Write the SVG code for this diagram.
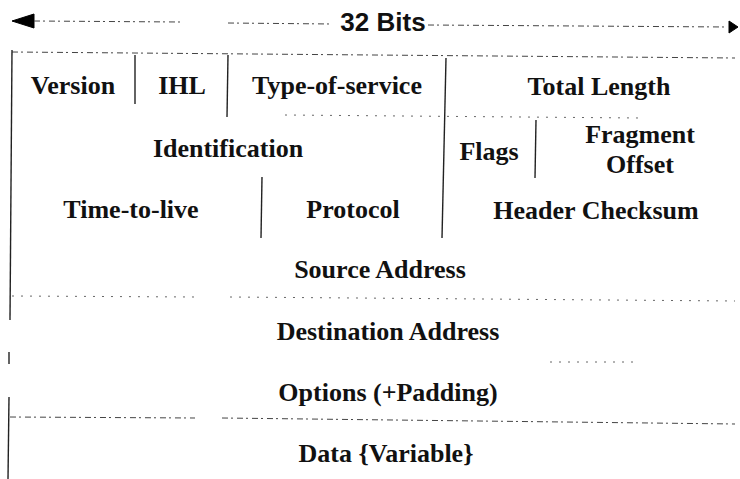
<svg xmlns="http://www.w3.org/2000/svg" width="740" height="479" viewBox="0 0 740 479">
  <style>
    .lbl { font-family: "Liberation Serif", "Times New Roman", serif; font-weight: bold; font-size: 26px; fill: #111; text-anchor: middle; }
    .title { font-family: "Liberation Sans", Arial, sans-serif; font-weight: bold; font-size: 26px; fill: #111; text-anchor: middle; }
    .solid { stroke: #222; stroke-width: 1.4; fill: none; }
    .dash { stroke: #444; stroke-width: 1; fill: none; stroke-dasharray: 6 3 2 4; }
    .dots { stroke: #666; stroke-width: 1; fill: none; stroke-dasharray: 2 7; }
    .head { fill: #000; stroke: #000; stroke-width: 1; }
  </style>

  <rect width="740" height="479" fill="#fff"/>

  <!-- width indicator across the top -->
  <g id="connectors">
    <polygon points="12,21 34,14 34,28" class="head"/>
    <path d="M34,21 L180,22" class="dash"/>
    <path d="M228,23 L332,24" class="dash"/>
    <path d="M428,25 L728,27" class="dash"/>
    <polygon points="729,21 738,27 729,33" class="head"/>
  </g>

  <g id="width-label">
    <text class="title" x="383" y="31">32 Bits</text>
  </g>

  <!-- frame and field separators -->
  <g id="rules">
    <!-- top edge -->
    <path d="M12,52 L735,58" class="dash"/>
    <!-- left edge -->
    <path d="M12,50 L10,320" class="solid"/>
    <path d="M9,352 L9,364" class="solid"/>
    <path d="M9,397 L8,479" class="solid"/>
    <!-- row 1 separators -->
    <path d="M135,55 L135,104" class="solid"/>
    <path d="M228,55 L227,117" class="solid"/>
    <path d="M446,58 L442,238" class="solid"/>
    <!-- row 1 / row 2 -->
    <path d="M285,115 L640,118" class="dots"/>
    <!-- flags / fragment offset -->
    <path d="M536,120 L535,178" class="solid"/>
    <!-- time-to-live / protocol -->
    <path d="M262,177 L261,238" class="solid"/>
    <!-- source / destination -->
    <path d="M12,296 L195,297" class="dots"/>
    <path d="M230,297 L735,301" class="dots"/>
    <!-- destination / options -->
    <path d="M550,362 L640,362" class="dots"/>
    <!-- options / data -->
    <path d="M10,417 L195,418" class="dash"/>
    <path d="M222,418 L735,424" class="dash"/>
  </g>

  <g id="version"><text class="lbl" x="73" y="94">Version</text></g>
  <g id="ihl"><text class="lbl" x="182" y="94">IHL</text></g>
  <g id="type-of-service"><text class="lbl" x="337" y="94">Type-of-service</text></g>
  <g id="total-length"><text class="lbl" x="599" y="95">Total Length</text></g>

  <g id="identification"><text class="lbl" x="228" y="157">Identification</text></g>
  <g id="flags"><text class="lbl" x="489" y="160">Flags</text></g>
  <g id="fragment-offset">
    <text class="lbl" x="640" y="143">Fragment</text>
    <text class="lbl" x="640" y="173">Offset</text>
  </g>

  <g id="time-to-live"><text class="lbl" x="131" y="218">Time-to-live</text></g>
  <g id="protocol"><text class="lbl" x="353" y="218">Protocol</text></g>
  <g id="header-checksum"><text class="lbl" x="596" y="219">Header Checksum</text></g>

  <g id="source-address"><text class="lbl" x="380" y="278">Source Address</text></g>
  <g id="destination-address"><text class="lbl" x="388" y="340">Destination Address</text></g>
  <g id="options"><text class="lbl" x="388" y="401">Options (+Padding)</text></g>
  <g id="data"><text class="lbl" x="386" y="462">Data {Variable}</text></g>
</svg>
